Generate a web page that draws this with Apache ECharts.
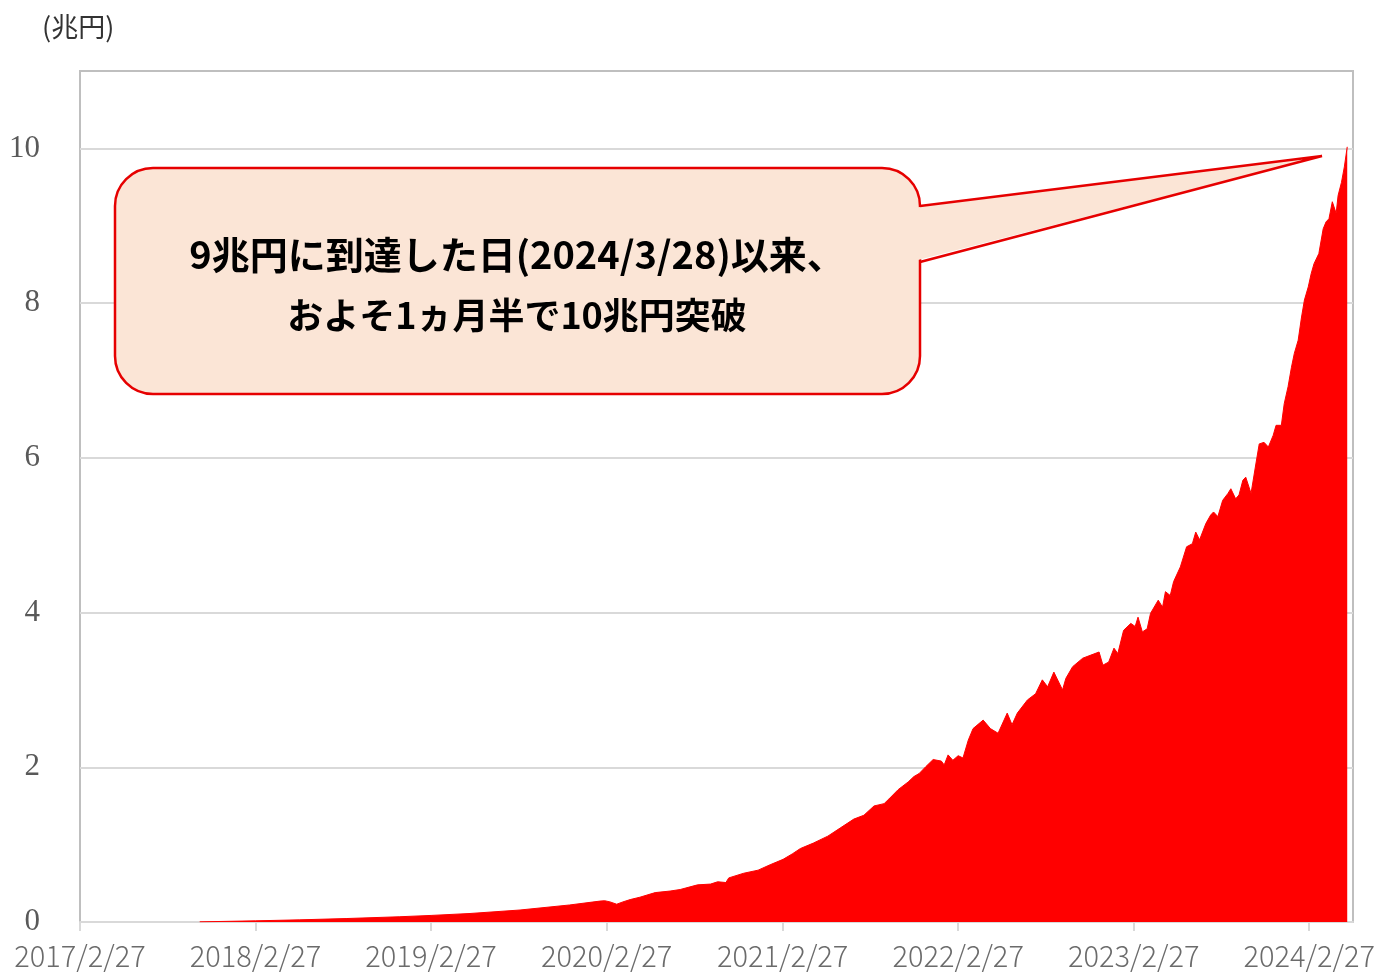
<!DOCTYPE html>
<html>
<head>
<meta charset="utf-8">
<script src="https://cdn.jsdelivr.net/npm/echarts@6/dist/echarts.min.js"></script>
<style>
  html, body { margin: 0; padding: 0; background: #fff; }
  #chart { width: 1391px; height: 972px; }
</style>
</head>
<body>
<div id="chart"></div>
<script>
// ---- data ----
const dates = [
  '2017-11-03','2018-02-27','2018-05-30','2018-09-05','2018-12-24','2019-02-27','2019-05-19','2019-08-31',
  '2019-12-12','2020-02-13','2020-02-23','2020-03-05','2020-03-19','2020-04-01','2020-04-16','2020-05-06',
  '2020-06-07','2020-07-08','2020-07-29','2020-09-03','2020-09-30','2020-10-15','2020-11-01','2020-11-07',
  '2020-12-08','2021-01-07','2021-02-01','2021-02-28','2021-03-19','2021-04-05','2021-05-02','2021-06-01',
  '2021-06-28','2021-07-25','2021-08-15','2021-09-05','2021-09-26','2021-10-06','2021-10-25','2021-11-15',
  '2021-11-27','2021-12-08','2021-12-22','2022-01-06','2022-01-23','2022-01-29','2022-02-06','2022-02-16',
  '2022-02-27','2022-03-09','2022-03-20','2022-03-30','2022-04-20','2022-05-05','2022-05-21','2022-06-09',
  '2022-06-19','2022-06-30','2022-07-21','2022-08-07','2022-08-21','2022-09-01','2022-09-14','2022-10-02',
  '2022-10-09','2022-10-23','2022-11-13','2022-11-30','2022-12-17','2022-12-25','2023-01-06','2023-01-17',
  '2023-01-25','2023-02-06','2023-02-21','2023-03-02','2023-03-08','2023-03-17','2023-03-27','2023-04-03',
  '2023-04-19','2023-04-28','2023-05-04','2023-05-14','2023-05-21','2023-06-04','2023-06-17','2023-06-29',
  '2023-07-06','2023-07-14','2023-07-27','2023-08-06','2023-08-12','2023-08-21','2023-08-31','2023-09-11',
  '2023-09-17','2023-09-27','2023-10-04','2023-10-12','2023-10-18','2023-10-29','2023-11-02','2023-11-08',
  '2023-11-15','2023-11-25','2023-12-04','2023-12-14','2023-12-20','2023-12-31','2024-01-06','2024-01-14',
  '2024-01-21','2024-01-27','2024-02-04','2024-02-11','2024-02-17','2024-02-25','2024-03-02','2024-03-08',
  '2024-03-18','2024-03-27','2024-04-02','2024-04-08','2024-04-15','2024-04-23','2024-04-27','2024-05-04',
  '2024-05-10','2024-05-16'
];
const values = [
  0.002,0.015,0.028,0.045,0.068,0.085,0.11,0.155,
  0.22,0.27,0.275,0.26,0.23,0.26,0.29,0.32,
  0.38,0.40,0.42,0.48,0.49,0.52,0.51,0.57,
  0.63,0.67,0.74,0.81,0.88,0.95,1.02,1.11,
  1.22,1.33,1.38,1.50,1.53,1.59,1.71,1.81,
  1.88,1.92,2.01,2.10,2.08,2.03,2.16,2.09,
  2.15,2.12,2.35,2.50,2.61,2.50,2.44,2.70,
  2.55,2.70,2.87,2.95,3.13,3.04,3.23,3.00,
  3.15,3.30,3.41,3.45,3.49,3.32,3.36,3.54,
  3.47,3.77,3.86,3.82,3.94,3.75,3.79,3.99,
  4.16,4.07,4.27,4.22,4.40,4.59,4.85,4.89,
  5.04,4.94,5.15,5.26,5.30,5.24,5.45,5.54,
  5.60,5.47,5.52,5.71,5.75,5.54,5.52,5.92,
  6.18,6.20,6.14,6.29,6.42,6.42,6.70,6.92,
  7.17,7.35,7.52,7.82,8.04,8.21,8.38,8.51,
  8.64,8.96,9.05,9.09,9.31,9.16,9.39,9.56,
  9.76,10.02
];
const xTickDates = ['2017-02-27','2018-02-27','2019-02-27','2020-02-27','2021-02-27','2022-02-27','2023-02-27','2024-02-27'];
const xTickLabels = ['2017/2/27','2018/2/27','2019/2/27','2020/2/27','2021/2/27','2022/2/27','2023/2/27','2024/2/27'];
const yTicks = [0, 2, 4, 6, 8, 10];
const xStart = '2017-02-27';
const xEnd = '2024-05-28';
const unitLabel = '(兆円)';
const calloutLines = ['9兆円に到達した日(2024/3/28)以来、', 'およそ1ヵ月半で10兆円突破'];

// ---- build ----
const ts = s => Date.parse(s + 'T00:00:00Z');
const seriesData = dates.map((d, i) => [ts(d), values[i]]);
const xTickValues = xTickDates.map(ts);

const chart = echarts.init(document.getElementById('chart'), null, { renderer: 'canvas' });
const fill = '#FBE5D6';
const edge = '#E60000';

chart.setOption({
  animation: false,
  backgroundColor: '#fff',
  title: {
    text: unitLabel,
    left: 37, top: 8,
    textStyle: { fontFamily: 'Noto Sans CJK JP', fontSize: 27, fontWeight: 'normal', color: '#333' }
  },
  grid: {
    left: 80, right: 38, top: 71, bottom: 50,
    show: true, borderColor: '#BFBFBF', borderWidth: 2, backgroundColor: 'transparent'
  },
  xAxis: {
    type: 'value',
    min: ts(xStart), max: ts(xEnd),
    axisLine: { show: true, lineStyle: { color: '#D9D9D9', width: 2 } },
    axisTick: { show: true, customValues: xTickValues, length: 9, lineStyle: { color: '#D9D9D9', width: 2 } },
    axisLabel: {
      customValues: xTickValues,
      margin: 19,
      fontFamily: 'Noto Sans CJK JP', fontSize: 29, fontWeight: 300, color: '#6B6B6B',
      formatter: v => {
        const i = xTickValues.indexOf(v);
        return i >= 0 ? xTickLabels[i] : '';
      }
    },
    splitLine: { show: false }
  },
  yAxis: {
    type: 'value',
    min: 0, max: 11, interval: 2,
    axisLine: { show: false },
    axisTick: { show: false },
    axisLabel: {
      customValues: yTicks,
      margin: 40,
      fontFamily: 'Liberation Serif', fontSize: 31, color: '#595959'
    },
    splitLine: { show: true, showMaxLine: false, lineStyle: { color: '#D9D9D9', width: 2 } }
  },
  series: [{
    type: 'line',
    data: seriesData,
    showSymbol: false,
    symbol: 'none',
    sampling: 'none',
    lineStyle: { color: '#FF0000', width: 1 },
    areaStyle: { color: '#FF0000', opacity: 1 },
    z: 3
  }],
  graphic: [
    {
      type: 'rect', z: 100,
      shape: { x: 115, y: 168, width: 805, height: 226, r: 38 },
      style: { fill: fill, stroke: edge, lineWidth: 2.5 }
    },
    {
      type: 'polygon', z: 101,
      shape: { points: [[916, 207.5], [1322, 156], [916, 260.5]] },
      style: { fill: fill, stroke: null }
    },
    {
      type: 'polyline', z: 102,
      shape: { points: [[920, 206], [1322, 156], [920, 262]] },
      style: { fill: null, stroke: edge, lineWidth: 2.5, lineJoin: 'miter' }
    },
    {
      type: 'text', z: 103,
      x: 517, y: 255,
      style: {
        text: calloutLines[0], align: 'center', verticalAlign: 'middle',
        fontFamily: 'Noto Sans CJK JP', fontSize: 38, fontWeight: 'bold', fill: '#000'
      }
    },
    {
      type: 'text', z: 103,
      x: 517, y: 315,
      style: {
        text: calloutLines[1], align: 'center', verticalAlign: 'middle',
        fontFamily: 'Noto Sans CJK JP', fontSize: 36, fontWeight: 'bold', fill: '#000'
      }
    }
  ]
});
</script>
</body>
</html>
